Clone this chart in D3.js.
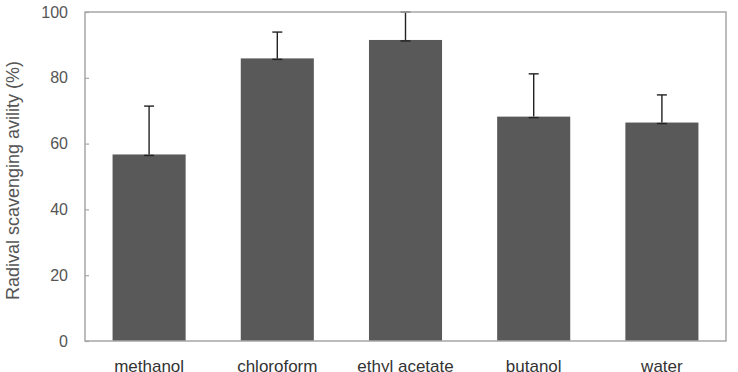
<!DOCTYPE html>
<html>
<head>
<meta charset="utf-8">
<script src="https://cdn.jsdelivr.net/npm/d3@7"></script>
<style>
  body { margin: 0; background: #fff; }
  svg { display: block; font-family: Arial, "Liberation Sans", sans-serif; }
</style>
</head>
<body>
<svg id="chart" width="738" height="372"></svg>
<script>
var categories = ['methanol', 'chloroform', 'ethyl acetate', 'butanol', 'water'];
var means = [56.7, 85.9, 91.5, 68.2, 66.4];
var errors = [14.7, 8.0, 8.5, 13.0, 8.4];
var yTicks = [0, 20, 40, 60, 80, 100];

var svg = d3.select('#chart');
var margin = { left: 85, top: 12, right: 12, bottom: 31 };
var width = 738 - margin.left - margin.right;
var height = 372 - margin.top - margin.bottom;

var g = svg.append('g')
  .attr('transform', 'translate(' + margin.left + ',' + margin.top + ')');

var x = d3.scaleBand()
  .domain(categories)
  .range([0, width])
  .paddingInner(0.43)
  .paddingOuter(0.215);

var y = d3.scaleLinear().domain([0, 100]).range([height, 0]);

var rows = categories.map(function (c, i) {
  return { name: c, mean: means[i], err: errors[i] };
});

// bars
g.selectAll('.bar')
  .data(rows)
  .enter()
  .append('rect')
  .attr('class', 'bar')
  .attr('x', function (d) { return x(d.name); })
  .attr('y', function (d) { return y(d.mean); })
  .attr('width', x.bandwidth())
  .attr('height', function (d) { return height - y(d.mean); })
  .attr('fill', '#595959');

// error bars (upper only)
var eb = g.selectAll('.err')
  .data(rows)
  .enter()
  .append('g')
  .attr('class', 'err')
  .attr('stroke', '#222')
  .attr('stroke-width', 1.4);

eb.append('line')
  .attr('x1', function (d) { return x(d.name) + x.bandwidth() / 2; })
  .attr('x2', function (d) { return x(d.name) + x.bandwidth() / 2; })
  .attr('y1', function (d) { return y(d.mean); })
  .attr('y2', function (d) { return y(Math.min(100, d.mean + d.err)); });

eb.append('line')
  .attr('x1', function (d) { return x(d.name) + x.bandwidth() / 2 - 5; })
  .attr('x2', function (d) { return x(d.name) + x.bandwidth() / 2 + 5; })
  .attr('y1', function (d) { return y(Math.min(100, d.mean + d.err)); })
  .attr('y2', function (d) { return y(Math.min(100, d.mean + d.err)); });

eb.append('line')
  .attr('x1', function (d) { return x(d.name) + x.bandwidth() / 2 - 5; })
  .attr('x2', function (d) { return x(d.name) + x.bandwidth() / 2 + 5; })
  .attr('y1', function (d) { return y(d.mean) + 1; })
  .attr('y2', function (d) { return y(d.mean) + 1; });

// frame
g.append('rect')
  .attr('x', 0)
  .attr('y', 0)
  .attr('width', width)
  .attr('height', height)
  .attr('fill', 'none')
  .attr('stroke', '#a6a6a6')
  .attr('stroke-width', 1.5);

// y axis
var yAxis = g.append('g')
  .call(d3.axisLeft(y).tickValues(yTicks).tickSize(-4).tickPadding(17));
yAxis.select('.domain').remove();
yAxis.selectAll('.tick line').attr('stroke', '#a6a6a6').attr('stroke-width', 1.2);
yAxis.selectAll('.tick text')
  .attr('fill', '#555')
  .attr('font-size', '16px')
  .attr('font-family', 'Arial, "Liberation Sans", sans-serif');

// x axis labels
var xAxis = g.append('g')
  .attr('transform', 'translate(0,' + height + ')')
  .call(d3.axisBottom(x).tickSize(0).tickPadding(19));
xAxis.select('.domain').remove();
xAxis.selectAll('.tick text')
  .attr('fill', '#333')
  .attr('font-size', '17px')
  .attr('font-family', 'Arial, "Liberation Sans", sans-serif');

// y axis title
svg.append('text')
  .attr('transform', 'translate(19,' + (margin.top + height / 2 + 4) + ') rotate(-90)')
  .attr('text-anchor', 'middle')
  .attr('fill', '#555')
  .attr('font-size', '18px')
  .text('Radival scavenging avility (%)');
</script>
</body>
</html>
